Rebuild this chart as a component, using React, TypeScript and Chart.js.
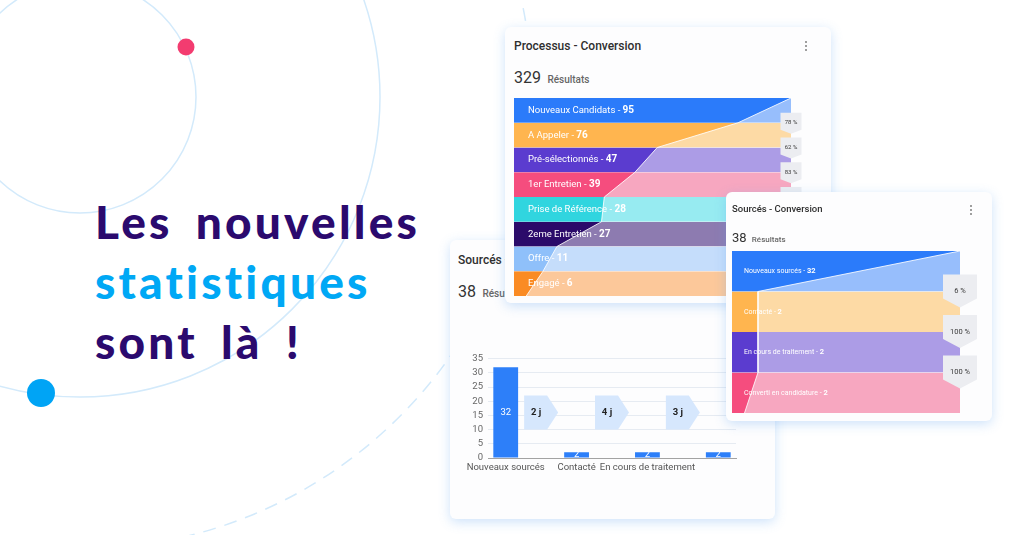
import React, { useEffect, useRef } from 'react';
import { Chart, registerables } from 'chart.js';

Chart.register(...registerables);

// ---------------- data ----------------
const processStages = ['Nouveaux Candidats', 'A Appeler', 'Pré-sélectionnés', '1er Entretien', 'Prise de Référence', '2eme Entretien', 'Offre', 'Engagé'];
const processValues = [95, 76, 47, 39, 28, 27, 11, 6];
const processRates = ['78 %', '62 %', '83 %', '72 %'];
const processTotal = 329;

const sourceStages = ['Nouveaux sourcés', 'Contacté', 'En cours de traitement', 'Converti en candidature'];
const sourceValues = [32, 2, 2, 2];
const sourceRates = ['6 %', '100 %', '100 %'];
const sourceTotal = 38;

const barAxisLabels = ['Nouveaux sourcés', 'Contacté', 'En cours de traitement', ''];
const stepDelays = ['2 j', '4 j', '3 j'];
const barYTicks = [0, 5, 10, 15, 20, 25, 30, 35];

// ---------------- styles ----------------
const darkColors = ['#2B7BFA', '#FFB54F', '#5B3CCF', '#F54D7E', '#30D5DF', '#2B0B6A', '#8FC0FA', '#FA8B24'];
const lightColors = ['#97BEFC', '#FDDAA5', '#AC9CE6', '#F7A7C0', '#97EBF1', '#8D7BB0', '#C5DDFB', '#FCC89A'];
const UI_FONT = 'Roboto, Arial, sans-serif';

type TagStyle = { w: number; top: number; mid: number; bottom: number; font: number };
type FunnelProps = {
  stages: string[];
  values: number[];
  rates: string[];
  xMin: number;
  left: number;
  top: number;
  width: number;
  height: number;
  padRight: number;
  labelSize: number;
  labelInset: number;
  tag: TagStyle;
};

function Funnel(p: FunnelProps) {
  const ref = useRef<HTMLCanvasElement>(null);
  useEffect(() => {
    const n = p.values.length;
    const maxV = p.values[0];
    const edge = [...p.values, 0];
    const datasets: any[] = [];
    p.values.forEach((_, i) => {
      datasets.push({
        data: [{ x: maxV, y: i }, { x: maxV, y: i + 1 }],
        backgroundColor: lightColors[i],
        borderWidth: 0,
        pointRadius: 0,
        fill: { value: p.xMin },
        order: 3,
      });
    });
    p.values.forEach((_, i) => {
      datasets.push({
        data: [{ x: edge[i], y: i }, { x: edge[i + 1], y: i + 1 }],
        backgroundColor: darkColors[i],
        borderWidth: 0,
        pointRadius: 0,
        fill: { value: p.xMin },
        order: 2,
      });
    });
    datasets.push({
      data: edge.map((v, i) => ({ x: v, y: i })),
      borderColor: 'rgba(255,255,255,0.85)',
      borderWidth: 1,
      pointRadius: 0,
      fill: false,
      order: 1,
    });

    const overlay = {
      id: 'funnelOverlay',
      afterDraw(chart: any) {
        const { ctx, chartArea } = chart;
        const x = chart.scales.x;
        const y = chart.scales.y;
        ctx.save();
        ctx.textBaseline = 'middle';
        ctx.textAlign = 'left';
        p.stages.forEach((s, i) => {
          const cy = y.getPixelForValue(i + 0.5);
          const lx = chartArea.left + p.labelInset;
          ctx.fillStyle = '#ffffff';
          ctx.font = `400 ${p.labelSize}px ${UI_FONT}`;
          const head = `${s} - `;
          ctx.fillText(head, lx, cy);
          const w = ctx.measureText(head).width;
          ctx.font = `700 ${p.labelSize + 0.5}px ${UI_FONT}`;
          ctx.fillText(String(p.values[i]), lx + w, cy);
        });
        const cx = x.getPixelForValue(maxV);
        const t = p.tag;
        p.rates.forEach((r, i) => {
          const by = y.getPixelForValue(i + 1);
          ctx.beginPath();
          ctx.moveTo(cx - t.w / 2, by - t.top);
          ctx.lineTo(cx + t.w / 2, by - t.top);
          ctx.lineTo(cx + t.w / 2, by + t.mid);
          ctx.lineTo(cx, by + t.bottom);
          ctx.lineTo(cx - t.w / 2, by + t.mid);
          ctx.closePath();
          ctx.fillStyle = '#ECEDF1';
          ctx.fill();
          ctx.fillStyle = '#3a3a3a';
          ctx.textAlign = 'center';
          ctx.font = `400 ${t.font}px ${UI_FONT}`;
          ctx.fillText(r, cx, by);
          ctx.textAlign = 'left';
        });
        ctx.restore();
      },
    };

    const chart = new Chart(ref.current as HTMLCanvasElement, {
      type: 'line',
      data: { datasets },
      options: {
        responsive: false,
        animation: false,
        events: [],
        indexAxis: 'y',
        layout: { padding: { right: p.padRight, left: 0, top: 0, bottom: 0 } },
        plugins: { legend: { display: false }, tooltip: { enabled: false } },
        scales: {
          x: { type: 'linear', min: p.xMin, max: maxV, display: false },
          y: {
            type: 'linear',
            min: 0,
            max: n,
            reverse: true,
            z: 1,
            ticks: { display: false, stepSize: 1 },
            grid: { color: 'rgba(255,255,255,0.9)', lineWidth: 1, drawTicks: false },
            border: { display: false },
          },
        },
      } as any,
      plugins: [overlay],
    });
    return () => chart.destroy();
  }, []);
  return (
    <canvas
      ref={ref}
      width={p.width}
      height={p.height}
      style={{ position: 'absolute', left: p.left, top: p.top, width: p.width, height: p.height }}
    />
  );
}

function StepBars({ left, top }: { left: number; top: number }) {
  const ref = useRef<HTMLCanvasElement>(null);
  useEffect(() => {
    const annotations = {
      id: 'barAnnotations',
      afterDatasetsDraw(chart: any) {
        const { ctx } = chart;
        const x = chart.scales.x;
        const y = chart.scales.y;
        ctx.save();
        // arrows with delays
        stepDelays.forEach((d, i) => {
          const cx = x.getPixelForValue(i + 0.5);
          const cy = y.getPixelForValue(16);
          const h = 17;
          ctx.beginPath();
          ctx.moveTo(cx - 17, cy - h);
          ctx.lineTo(cx + 6, cy - h);
          ctx.lineTo(cx + 17, cy);
          ctx.lineTo(cx + 6, cy + h);
          ctx.lineTo(cx - 17, cy + h);
          ctx.closePath();
          ctx.fillStyle = '#D6E7FD';
          ctx.fill();
          ctx.fillStyle = '#222';
          ctx.font = `700 9.5px ${UI_FONT}`;
          ctx.textAlign = 'center';
          ctx.textBaseline = 'middle';
          ctx.fillText(d, cx - 5, cy);
        });
        // values inside bars
        const meta = chart.getDatasetMeta(0);
        meta.data.forEach((bar: any, i: number) => {
          ctx.fillStyle = '#ffffff';
          ctx.font = `400 9.5px ${UI_FONT}`;
          ctx.textAlign = 'center';
          ctx.textBaseline = 'middle';
          ctx.fillText(String(sourceValues[i]), bar.x, (bar.y + bar.base) / 2);
        });
        ctx.restore();
      },
    };
    const chart = new Chart(ref.current as HTMLCanvasElement, {
      type: 'bar',
      data: {
        datasets: [
          {
            data: sourceValues.map((v, i) => ({ x: i, y: v })),
            backgroundColor: '#2D7FF9',
            barPercentage: 0.35,
            categoryPercentage: 1,
          },
        ],
      },
      options: {
        responsive: false,
        animation: false,
        events: [],
        layout: { padding: { left: 4, right: 7, top: 8, bottom: 0 } },
        plugins: { legend: { display: false }, tooltip: { enabled: false } },
        scales: {
          x: {
            type: 'linear',
            offset: false,
            min: -0.25,
            max: sourceStages.length - 0.75,
            grid: { display: false, drawTicks: false },
            border: { color: '#a3a3a3' },
            afterBuildTicks: (s: any) => {
              s.ticks = sourceStages.map((_, i) => ({ value: i }));
            },
            afterFit: (s: any) => {
              s.height = 20;
            },
            ticks: {
              autoSkip: false,
              maxRotation: 0,
              padding: 4,
              color: '#555',
              font: { size: 9.5, family: UI_FONT },
              callback: (_v: any, i: number) => barAxisLabels[i],
            },
          },
          y: {
            type: 'linear',
            min: barYTicks[0],
            max: barYTicks[barYTicks.length - 1],
            afterBuildTicks: (s: any) => {
              s.ticks = barYTicks.map((v) => ({ value: v }));
            },
            afterFit: (s: any) => {
              s.width = 26;
            },
            ticks: { autoSkip: false, padding: 5, color: '#666', font: { size: 9.5, family: UI_FONT } },
            grid: { color: '#E6EBF2', drawTicks: false },
            border: { display: false },
          },
        },
      } as any,
      plugins: [annotations],
    });
    return () => chart.destroy();
  }, []);
  return (
    <canvas
      ref={ref}
      width={285}
      height={130}
      style={{ position: 'absolute', left, top, width: 285, height: 130 }}
    />
  );
}

function Kebab({ x, y }: { x: number; y: number }) {
  return (
    <svg width={6} height={14} style={{ position: 'absolute', left: x - 3, top: y - 7 }}>
      <circle cx={3} cy={3} r={1.1} fill="#888" />
      <circle cx={3} cy={7} r={1.1} fill="#888" />
      <circle cx={3} cy={11} r={1.1} fill="#888" />
    </svg>
  );
}

const cardStyle: React.CSSProperties = {
  position: 'absolute',
  background: '#fdfdfe',
  borderRadius: 6,
  boxShadow: '0 3px 12px rgba(90,160,240,0.30)',
  overflow: 'hidden',
};

function Header({ title, total, left, top, titleSize, totalSize, resSize, gap }: any) {
  return (
    <>
      <div
        style={{
          position: 'absolute',
          left,
          top,
          fontFamily: UI_FONT,
          fontWeight: 500,
          fontSize: titleSize,
          lineHeight: `${titleSize + 2}px`,
          color: '#2f2f2f',
          whiteSpace: 'nowrap',
        }}
      >
        {title}
      </div>
      <div
        style={{
          position: 'absolute',
          left,
          top: top + gap,
          fontFamily: UI_FONT,
          whiteSpace: 'nowrap',
          color: '#333',
          lineHeight: `${totalSize + 2}px`,
        }}
      >
        <span style={{ fontSize: totalSize }}>{total}</span>
        <span style={{ fontSize: resSize, color: '#666', fontWeight: 500, marginLeft: totalSize * 0.4 }}>Résultats</span>
      </div>
    </>
  );
}

export default function App() {
  useEffect(() => {
    document.body.style.margin = '0';
  }, []);
  return (
    <div
      style={{
        position: 'absolute',
        left: 0,
        top: 0,
        width: 1024,
        height: 535,
        overflow: 'hidden',
        background: '#ffffff',
      }}
    >
      <svg width={1024} height={535} style={{ position: 'absolute', left: 0, top: 0 }}>
        <circle cx={80} cy={97} r={116} fill="none" stroke="#D3EAFB" strokeWidth={1.5} />
        <circle cx={80} cy={97} r={300} fill="none" stroke="#D3EAFB" strokeWidth={1.5} />
        <circle cx={80} cy={97} r={452} fill="none" stroke="#D3EAFB" strokeWidth={1.5} strokeDasharray="13 9" />
        <circle cx={186} cy={47} r={8.5} fill="#F33C70" />
        <circle cx={41} cy={393} r={14} fill="#00A4F5" />
      </svg>

      <div
        style={{
          position: 'absolute',
          left: 95,
          top: 192,
          fontFamily: 'Lato, sans-serif',
          fontWeight: 900,
          fontSize: 46,
          lineHeight: '60px',
          color: '#2B0A6E',
          letterSpacing: 3.2,
          wordSpacing: 9,
          whiteSpace: 'nowrap',
        }}
      >
        <div>Les nouvelles</div>
        <div style={{ color: '#00A8F5' }}>statistiques</div>
        <div>sont là !</div>
      </div>

      {/* Card B : bar chart */}
      <div style={{ ...cardStyle, left: 450, top: 240, width: 325, height: 279 }}>
        <Header title="Sourcés - Conversion" total={sourceTotal} left={8} top={13} titleSize={12} totalSize={16} resSize={10} gap={30} />
        <StepBars left={8} top={108} />
      </div>

      {/* Card A : process funnel */}
      <div style={{ ...cardStyle, left: 505, top: 27, width: 326, height: 276 }}>
        <Header title="Processus - Conversion" total={processTotal} left={9} top={12} titleSize={12} totalSize={16} resSize={10} gap={30} />
        <Kebab x={301} y={19} />
        <Funnel
          stages={processStages}
          values={processValues}
          rates={processRates}
          xMin={-4.4}
          left={9}
          top={71}
          width={291}
          height={198}
          padRight={14}
          labelSize={9.5}
          labelInset={14}
          tag={{ w: 21, top: 10, mid: 7, bottom: 11, font: 6 }}
        />
      </div>

      {/* Card C : sourced funnel */}
      <div style={{ ...cardStyle, left: 726, top: 192, width: 266, height: 229 }}>
        <Header title="Sourcés - Conversion" total={sourceTotal} left={6} top={11} titleSize={9.5} totalSize={13} resSize={8} gap={26} />
        <Kebab x={245} y={18} />
        <Funnel
          stages={sourceStages}
          values={sourceValues}
          rates={sourceRates}
          xMin={-1.86}
          left={6}
          top={59}
          width={246}
          height={162}
          padRight={18}
          labelSize={7}
          labelInset={12}
          tag={{ w: 34, top: 17, mid: 7, bottom: 16, font: 7.5 }}
        />
      </div>
    </div>
  );
}
